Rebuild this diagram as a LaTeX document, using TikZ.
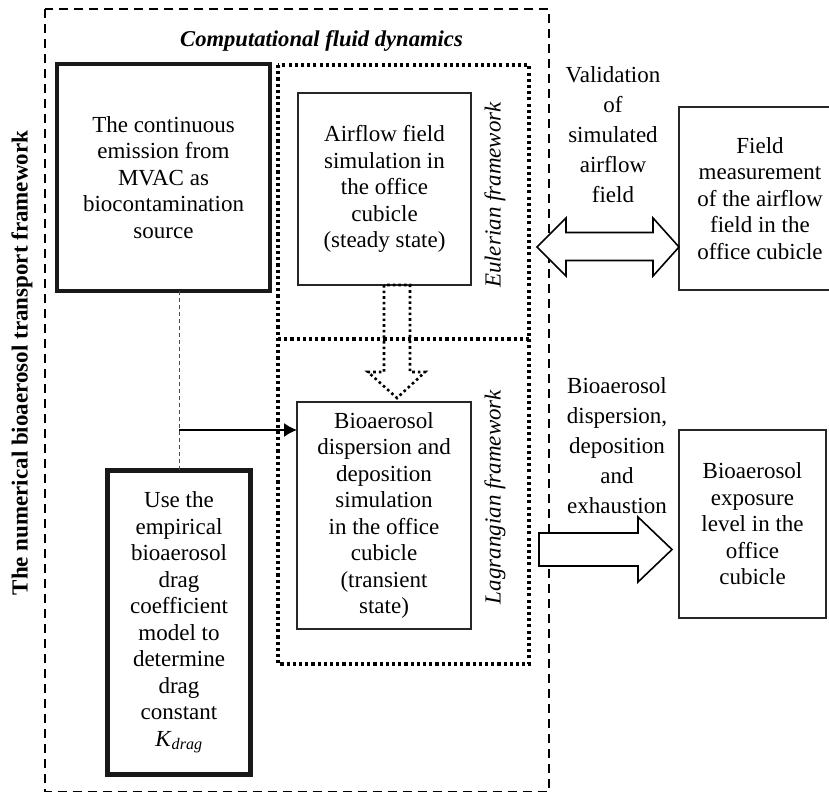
\documentclass[tikz,border=0pt]{standalone}
\usepackage{fontspec}
\setmainfont{Liberation Serif}
\usetikzlibrary{arrows.meta}
\begin{document}
\begin{tikzpicture}[x=1pt,y=-1pt,
  every node/.style={font=\fontsize{23}{26.5}\selectfont, align=center, inner sep=0pt, outer sep=0pt},
  thinbox/.style={draw=black!85, line width=1.2pt},
  thickbox/.style={draw=black!90, line width=4.5pt},
  dottedline/.style={line width=3.1pt, dash pattern=on 3.1pt off 3.1pt},
  dottedarrow/.style={line width=2.6pt, dash pattern=on 2.6pt off 3pt},
  outerdash/.style={line width=1.4pt, dash pattern=on 9pt off 6pt},
  thindash/.style={line width=0.9pt, draw=black!70, dash pattern=on 4pt off 3pt},
  bigarrow/.style={draw, fill=white, line width=1.6pt, line join=miter},
  lbl/.style={font=\fontsize{23}{30}\selectfont}
]
\useasboundingbox (0,0) rectangle (829,793);
\clip (0,0) rectangle (829,793);

% outer dashed frame
\draw[outerdash] (45,9) rectangle (549,791.5);
\node[font=\fontsize{22.6}{26}\selectfont\bfseries\itshape] (cfd) at (321.5,41) {Computational fluid dynamics};
\node[rotate=90, font=\fontsize{23}{26}\selectfont\bfseries] (frame) at (22,363) {The numerical bioaerosol transport framework};

% dotted Eulerian / Lagrangian frame
\draw[dottedline] (278,65) rectangle (529,664);
\draw[dottedline] (278,339) -- (529,339);
\node[rotate=90, font=\fontsize{23}{26}\selectfont\itshape] (eul) at (495,195) {Eulerian framework};
\node[rotate=90, font=\fontsize{23}{26}\selectfont\itshape] (lag) at (495,497) {Lagrangian framework};

% boxes
\node[thickbox, minimum width=213pt, minimum height=227pt] (source) at (163.5,177.5)
  {The continuous\\emission from\\MVAC as\\biocontamination\\source};
\node[thickbox, minimum width=143pt, minimum height=304pt] (drag) at (179,622.5)
  {Use the\\empirical\\bioaerosol\\drag\\coefficient\\model to\\determine\\drag\\constant\\\textit{K}\textsubscript{\textit{drag}}};
\node[thinbox, minimum width=173pt, minimum height=192pt] (air) at (384.5,189)
  {Airflow field\\simulation in\\the office\\cubicle\\(steady state)};
\node[thinbox, minimum width=174pt, minimum height=227pt] (disp) at (384,515.5)
  {Bioaerosol\\dispersion and\\deposition\\simulation\\in the office\\cubicle\\(transient\\state)};
\node[thinbox, minimum width=162pt, minimum height=183pt] (field) at (760,198.5)
  {Field\\measurement\\of the airflow\\field in the\\office cubicle};
\node[thinbox, minimum width=147pt, minimum height=188pt] (expo) at (752.5,524)
  {Bioaerosol\\exposure\\level in the\\office\\cubicle};

% labels
\node[lbl] (val) at (613,135) {Validation\\of\\simulated\\airflow\\field};
\node[lbl] (bdl) at (617,446) {Bioaerosol\\dispersion,\\deposition\\and\\exhaustion};

% connectors
\draw[thindash] (drag.north |- source.south) -- (drag.north);
\coordinate (junc) at (179,430);
\draw[line width=1.5pt, -{Latex[length=13pt,width=14pt]}] (junc) -- (junc -| disp.west);

% dotted block arrow air -> disp
\draw[dottedarrow] (384,285) -- (384,372) -- (368,372) -- (397,398) -- (425,372) -- (410,372) -- (410,285) -- cycle;

% double block arrow
\draw[bigarrow] (537,247) -- (566,218) -- (566,232.5) -- (653,232.5) -- (653,218) -- (field.west |- 0,247) -- (653,276) -- (653,260.5) -- (566,260.5) -- (566,276) -- cycle;

% right block arrow
\draw[bigarrow] (539,533) -- (638,533) -- (638,517) -- (672,549.5) -- (638,582) -- (638,566) -- (539,566) -- cycle;
\end{tikzpicture}
\end{document}
